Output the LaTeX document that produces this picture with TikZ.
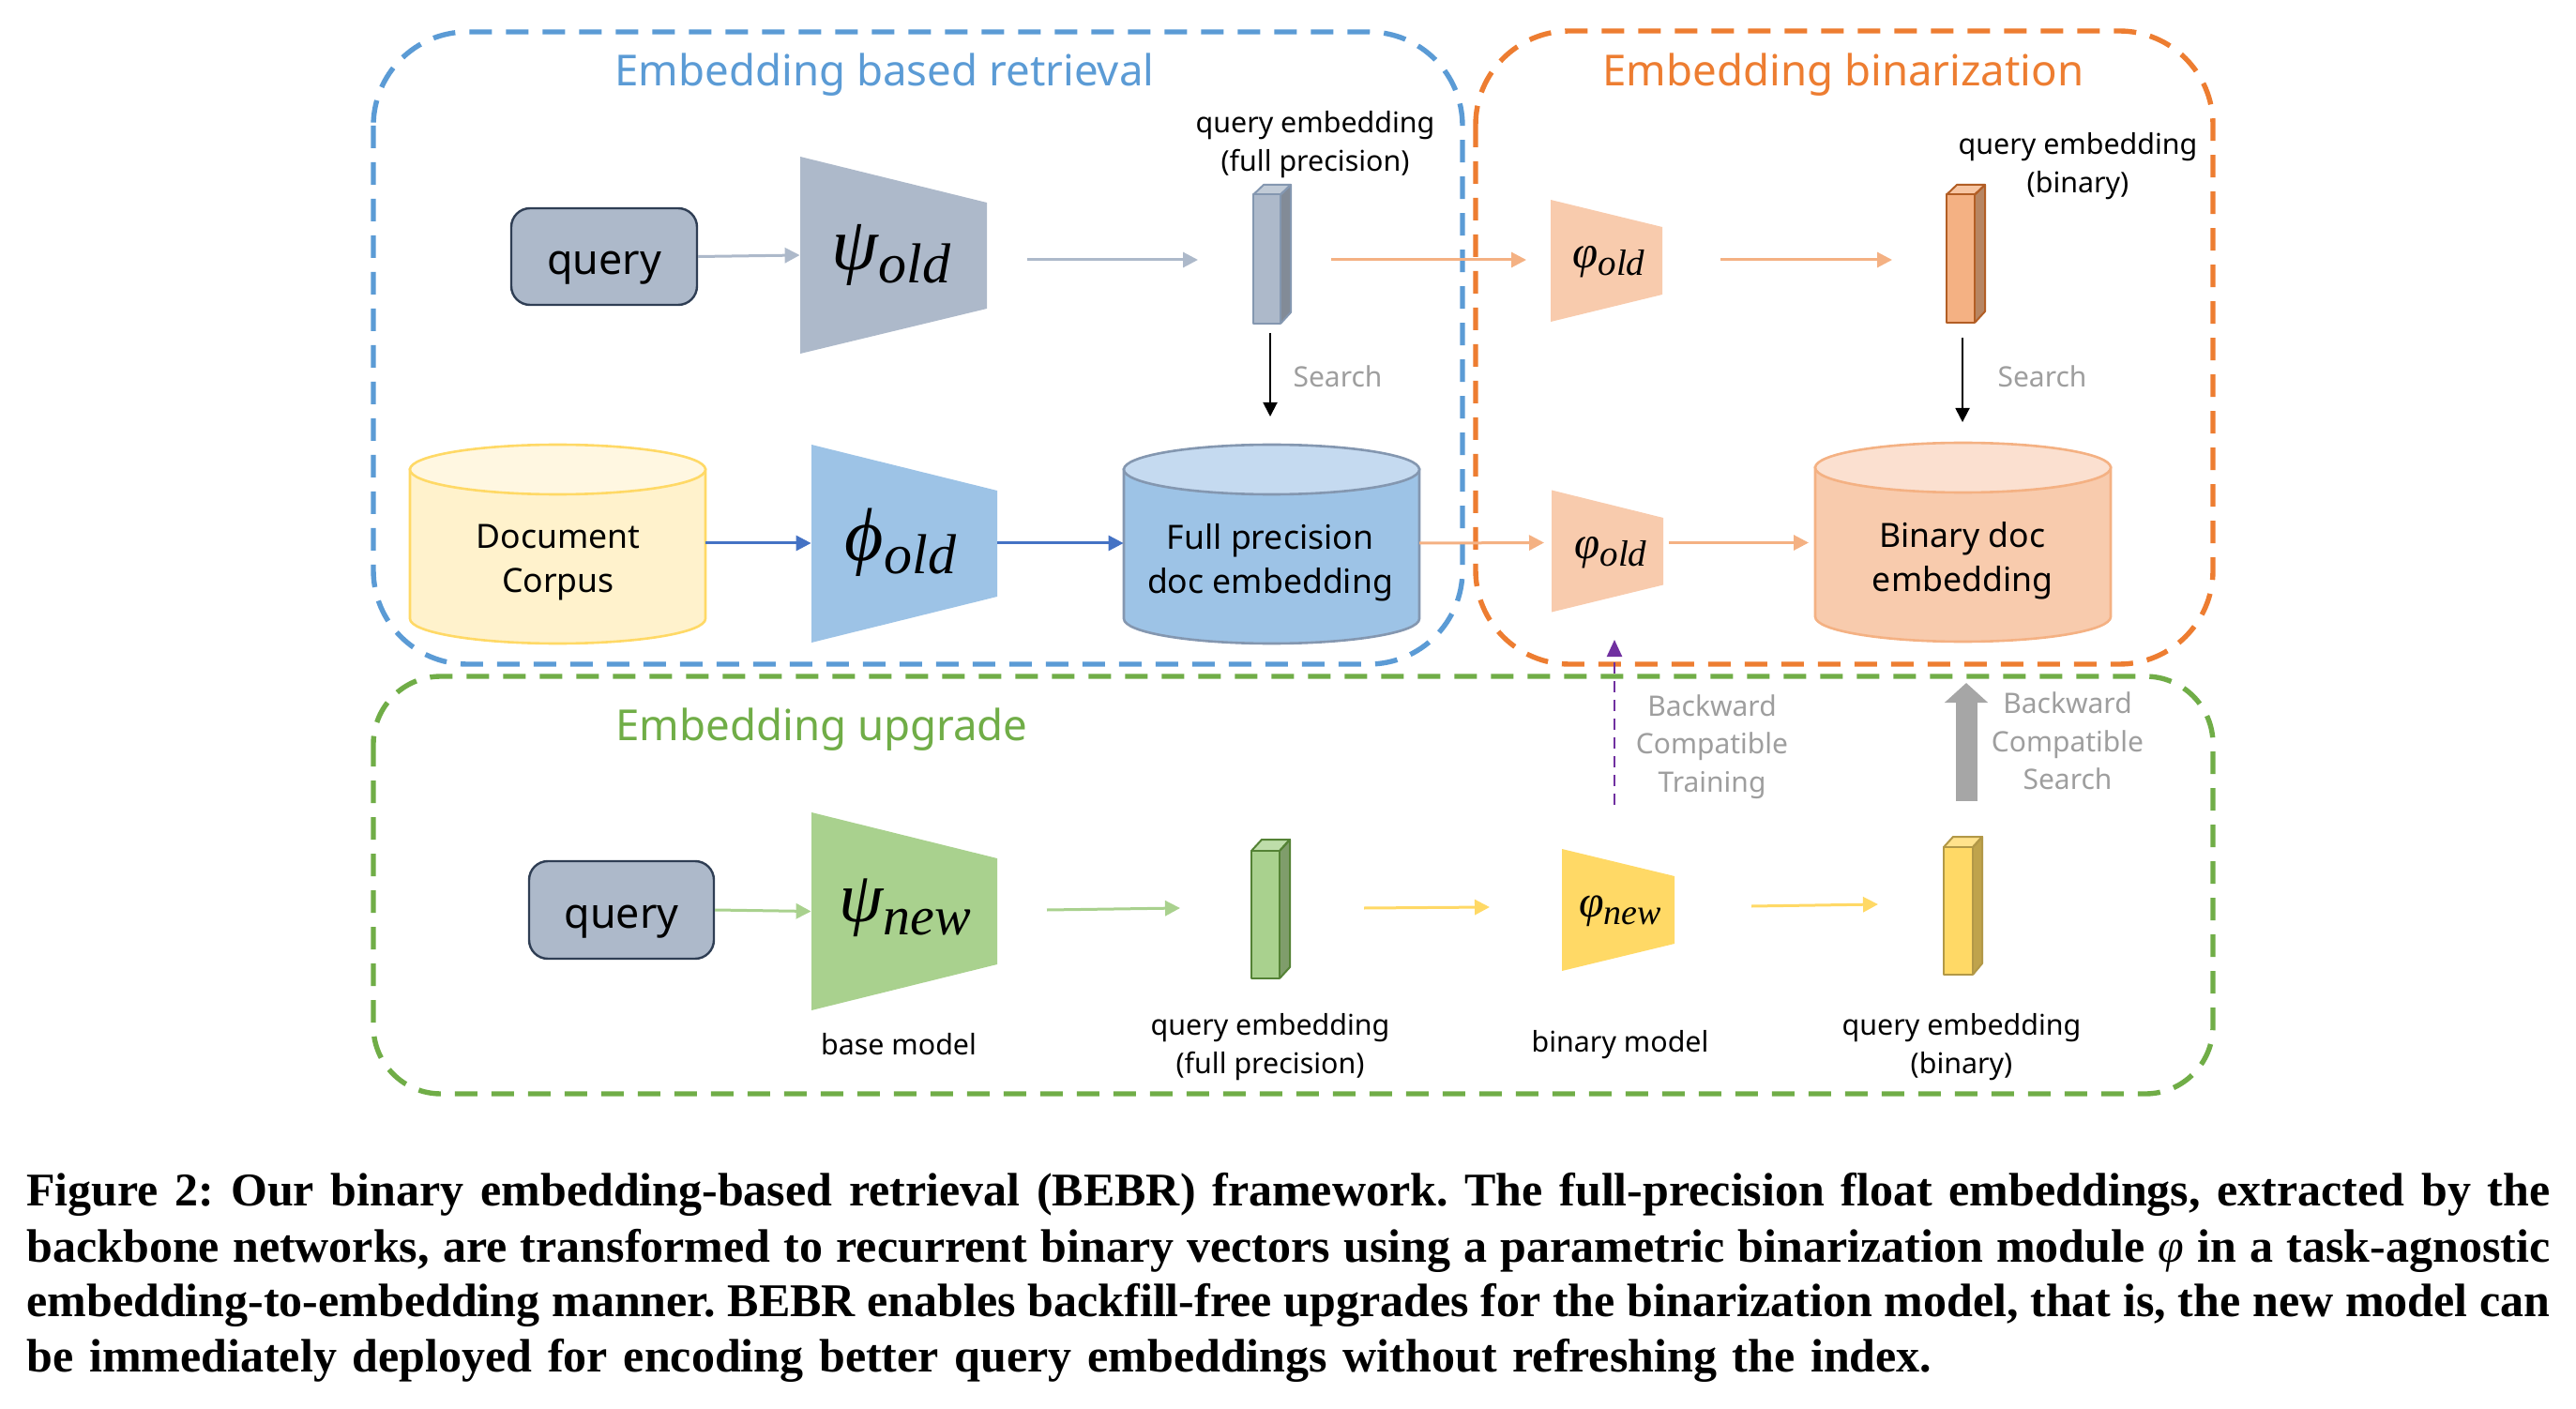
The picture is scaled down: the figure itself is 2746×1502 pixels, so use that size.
\documentclass[tikz,border=0pt]{standalone}
\usepackage{fontspec}
\setmainfont{Noto Sans}
\newfontfamily\capfont{Liberation Serif}
\usetikzlibrary{arrows.meta,fit}
\definecolor{cblue}{HTML}{5B9BD5}
\definecolor{corange}{HTML}{ED7D31}
\definecolor{cgreen}{HTML}{70AD47}
\definecolor{slate}{HTML}{ADB9CA}
\definecolor{slated}{HTML}{8497B0}
\definecolor{slatedark}{HTML}{2F3E54}
\definecolor{lblue}{HTML}{9DC3E6}
\definecolor{lbluet}{HTML}{C5DAF0}
\definecolor{peach}{HTML}{F8CBAD}
\definecolor{peacht}{HTML}{FBE0D0}
\definecolor{peachd}{HTML}{F4B183}
\definecolor{cream}{HTML}{FFF2CC}
\definecolor{creamt}{HTML}{FFF7E1}
\definecolor{gold}{HTML}{FFD966}
\definecolor{lgreen}{HTML}{A9D18E}
\definecolor{ggray}{HTML}{A6A6A6}
\definecolor{dblue}{HTML}{4472C4}
\definecolor{purp}{HTML}{7030A0}
\tikzset{
  frame/.style={line width=2.7pt,dash pattern=on 12pt off 7.5pt},
  title/.style={font=\fontsize{22.8}{27}\selectfont,inner sep=0},
  lab/.style={font=\fontsize{15.2}{20.8}\selectfont,inner sep=0,align=center},
  big/.style={font=\fontsize{17.8}{23.5}\selectfont,inner sep=0,align=center},
  grayl/.style={font=\fontsize{15}{20.3}\selectfont,inner sep=0,align=center,text=ggray!95!black},
  querybox/.style={draw=slatedark,fill=slate,line width=1.2pt,rounded corners=10pt,inner sep=0},
  qtext/.style={inner sep=0,font=\fontsize{22.4}{26}\selectfont},
  conn/.style={line width=1.5pt,-{Triangle[length=8pt,width=8pt]}},
  srch/.style={line width=1pt,black,-{Triangle[length=7.5pt,width=7.5pt]}},
  capl/.style={inner sep=0,anchor=west,font=\capfont\bfseries\fontsize{25}{28}\selectfont},
  mlab/.style={inner sep=0}
}
\newcommand{\glab}[5]{% char sub mainsize subsize drop
  \hbox{\capfont\itshape\fontsize{#3}{#3}\selectfont #1\raisebox{-#5pt}{\fontsize{#4}{#4}\selectfont #2}}}
\newcommand{\trap}[8]{% name x1 x2 ytl ybl ytr ybr fill
  \fill[#8] (#2,#4) -- (#3,#6) -- (#3,#7) -- (#2,#5) -- cycle;
  \node[fit={(#2,#4)(#3,#5)},inner sep=0] (#1) {};
}
\newcommand{\cuboid}[9]{% name x1 x2 xb y1 yt y2 fill stroke
  \fill[#8!75!black] (#3,#5) -- (#4,#6) -- (#4,#7-12) -- (#3,#7) -- cycle;
  \draw[#9,line width=1pt,line join=round,fill=#8!75!white] (#2,#5) -- ++(#4-#3,#6-#5) -- (#4,#6) -- (#3,#5) -- cycle;
  \draw[#9,line width=1pt,line join=round,fill=#8] (#2,#5) rectangle (#3,#7);
  \draw[#9,line width=1pt,line join=round] (#3,#5) -- (#4,#6) -- (#4,#7-12) -- (#3,#7);
  \node[fit={(#2,#5)(#3,#7)},inner sep=0] (#1) {};
}
\newcommand{\cyl}[9]{% name x1 x2 ytop ybot ry fill topfill stroke
  \draw[#9,line width=1.3pt,fill=#7] (#2,#4+#6) -- (#2,#5-#6)
    arc[start angle=180,end angle=0,x radius=(#3-#2)/2,y radius=#6]
    -- (#3,#4+#6) -- cycle;
  \draw[#9,line width=1.3pt,fill=#8] ({(#2+#3)/2},#4+#6) ellipse[x radius=(#3-#2)/2,y radius=#6];
  \node[fit={(#2,#4)(#3,#5)},inner sep=0] (#1) {};
}
\begin{document}
\frenchspacing
\begin{tikzpicture}[x=0.5pt,y=-0.5pt]
\useasboundingbox (0,0) rectangle (2746,1502);
% frames
\coordinate (fb1) at (398,34); \coordinate (fb2) at (1559,708);
\coordinate (fo1) at (1573,33); \coordinate (fo2) at (2359,708);
\coordinate (fg1) at (398,721); \coordinate (fg2) at (2359,1166);
\draw[frame,corange,rounded corners=50pt] (fo1) rectangle (fo2);
\draw[frame,cgreen,rounded corners=36pt] (fg1) rectangle (fg2);
\draw[frame,cblue,rounded corners=50pt] (fb1) rectangle (fb2);
\node[title,text=cblue] (t1) at (943,80) {Embedding based retrieval};
\node[title,text=corange] (t2) at (1965,80) {Embedding binarization};
\node[title,text=cgreen] (t3) at (876,778) {Embedding upgrade};
% row 1
\node[querybox,minimum width=99pt,minimum height=51.5pt] (q1) at (644,273.5) {};
\node[qtext] (q1l) at (644,286) {query};
\trap{psi1}{853}{1052}{167}{377}{216}{329}{slate}
\node[mlab] (psi1l) at (950,272) {\glab{ψ}{old}{40}{30}{7}};
\cuboid{c1}{1336}{1365}{1376}{207.5}{197}{345}{slate}{slated}
\node[lab] (c1l) at (1402,154) {query embedding\\(full precision)};
\trap{vo1}{1653}{1772}{213}{343}{242}{314}{peach}
\node[mlab] (vo1l) at (1715,279) {\glab{φ}{old}{24.5}{19.5}{4}};
\cuboid{c2}{2075}{2105}{2116}{207.5}{197}{344}{peachd}{corange!75!black}
\node[lab] (c2l) at (2215,177) {query embedding\\(binary)};
\node[grayl] (s1) at (1426,401) {Search};
\node[grayl] (s2) at (2177,401) {Search};
% row 2
\cyl{dc}{437}{752}{474}{686}{26.5}{cream}{creamt}{gold}
\node[big] (dcl) at (595,600) {Document\\Corpus};
\trap{phi1}{865}{1063}{474}{685}{523}{636}{lblue}
\node[mlab] (phi1l) at (960,578) {\glab{ϕ}{old}{40}{30}{7}};
\cyl{fp}{1198}{1513}{474}{686}{26.5}{lblue}{lbluet}{slated}
\node[big] (fpl) at (1354,600) {Full precision\\doc embedding};
\trap{vo2}{1654}{1773}{522.5}{652.5}{552}{623.5}{peach}
\node[mlab] (vo2l) at (1717,589) {\glab{φ}{old}{24.5}{19.5}{4}};
\cyl{bd}{1935}{2250}{472}{684}{26.5}{peach}{peacht}{peachd}
\node[big] (bdl) at (2092,598) {Binary doc\\embedding};
% row 3
\node[querybox,minimum width=98.5pt,minimum height=52pt] (q2) at (662.5,970) {};
\node[qtext] (q2l) at (662.5,983) {query};
\trap{psi2}{865}{1063}{866}{1077}{915}{1028}{lgreen}
\node[mlab] (psi2l) at (965,968) {\glab{ψ}{new}{38}{29}{7}};
\cuboid{c3}{1334}{1364}{1375}{907}{895}{1043}{lgreen}{cgreen!75!black}
\trap{vn}{1665}{1785}{905}{1035}{934}{1006}{gold}
\node[mlab] (vnl) at (1727,971) {\glab{φ}{new}{24}{19}{4}};
\cuboid{c4}{2072}{2103}{2113}{903}{892}{1039}{gold}{gold!70!black}
\node[lab] (bm) at (958,1113) {base model};
\node[lab] (c3l) at (1354,1116) {query embedding\\(full precision)};
\node[lab] (bnm) at (1727,1114) {binary model};
\node[lab] (c4l) at (2091,1116) {query embedding\\(binary)};
\node[grayl] (bct) at (1825,796) {Backward\\Compatible\\Training};
\node[grayl] (bcs) at (2204,790) {Backward\\Compatible\\Search};
% connector end points
\coordinate (a1) at (1095,277); \coordinate (a2) at (1277,277);
\coordinate (a3) at (1419,277); \coordinate (a4) at (1627,277);
\coordinate (a5) at (1834,277); \coordinate (a6) at (2017,277);
\coordinate (a7) at (1513,579); \coordinate (a8) at (1646,578.5);
\coordinate (a9) at (1779,578.5); \coordinate (a10) at (1928,578.5);
\coordinate (a11) at (1116,970); \coordinate (a12) at (1258,968);
\coordinate (a13) at (1454,968); \coordinate (a14) at (1588,967);
\coordinate (a15) at (1867,966); \coordinate (a16) at (2002,964);
\coordinate (s1a) at (1354,355); \coordinate (s1b) at (1354,444);
\coordinate (s2a) at (2092,360); \coordinate (s2b) at (2092,450);
\coordinate (pa) at (1721,858); \coordinate (pb) at (1721,682);
\coordinate (ga) at (2096,854); \coordinate (gb) at (2096,728);
% connectors
\draw[conn,slate] (q1.east) -- (psi1.west);
\draw[conn,slate] (a1) -- (a2);
\draw[conn,peachd] (a3) -- (a4);
\draw[conn,peachd] (a5) -- (a6);
\draw[conn,dblue] (dc.east |- 0,579) -- (phi1.west |- 0,579);
\draw[conn,dblue] (phi1.east |- 0,579) -- (fp.west |- 0,579);
\draw[conn,peachd] (a7) -- (a8);
\draw[conn,peachd] (a9) -- (a10);
\draw[conn,lgreen] (q2.east) -- (psi2.west);
\draw[conn,lgreen] (a11) -- (a12);
\draw[conn,gold] (a13) -- (a14);
\draw[conn,gold] (a15) -- (a16);
\draw[srch] (s1a) -- (s1b);
\draw[srch] (s2a) -- (s2b);
\draw[purp,line width=1.2pt,dash pattern=on 6pt off 4pt,-{Triangle[length=9pt,width=8pt]}] (pa) -- (pb);
\draw[ggray,line width=11.5pt,-{Triangle[length=10.5pt,width=22.5pt]}] (ga) -- (gb);
% caption
\node[capl] (cap1) at (28,1273) {\makebox[1345pt][s]{Figure 2: Our binary embedding-based retrieval (BEBR) framework. The full-precision float embeddings, extracted by the}};
\node[capl] (cap2) at (28,1333) {\makebox[1345pt][s]{backbone networks, are transformed to recurrent binary vectors using a parametric binarization module {\mdseries\itshape φ} in a task-agnostic}};
\node[capl] (cap3) at (28,1391) {\makebox[1345pt][s]{embedding-to-embedding manner. BEBR enables backfill-free upgrades for the binarization model, that is, the new model can}};
\node[capl] (cap4) at (28,1450) {\makebox[1015.5pt][s]{be immediately deployed for encoding better query embeddings without refreshing the index.}};
\end{tikzpicture}
\end{document}
